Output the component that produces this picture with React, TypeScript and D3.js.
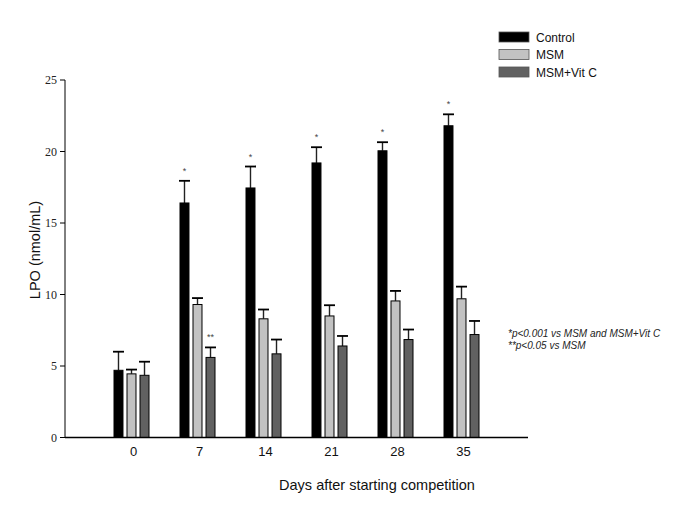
import * as d3 from "d3";

const days = ["0", "7", "14", "21", "28", "35"];
const series = ["Control", "MSM", "MSM+Vit C"];
const colors = ["#000000", "#c2c2c2", "#616161"];

const controlMean = [4.7, 16.4, 17.45, 19.2, 20.05, 21.8];
const controlErr = [1.3, 1.55, 1.5, 1.1, 0.6, 0.8];
const msmMean = [4.45, 9.3, 8.3, 8.5, 9.55, 9.7];
const msmErr = [0.3, 0.45, 0.65, 0.75, 0.7, 0.85];
const vitcMean = [4.35, 5.6, 5.85, 6.4, 6.85, 7.2];
const vitcErr = [0.95, 0.7, 1.0, 0.7, 0.7, 0.95];

const stars = [
  ["", "", ""],
  ["*", "", "**"],
  ["*", "", ""],
  ["*", "", ""],
  ["*", "", ""],
  ["*", "", ""],
];

const yTicks = [0, 5, 10, 15, 20, 25];
const notes = ["*p<0.001 vs MSM and MSM+Vit C", "**p<0.05 vs MSM"];

const sans = "'Liberation Sans', Arial, sans-serif";
const serif = "'Liberation Serif', 'Times New Roman', serif";

export default function App() {
  const width = 685;
  const height = 513;
  const axisLeft = 65;
  const axisRight = 528;

  const y = d3.scaleLinear().domain([0, 25]).range([437.5, 80]);
  const x = d3.scalePoint<string>().domain(days).range([131.5, 461.5]);
  const inner = d3
    .scaleBand<string>()
    .domain(series)
    .range([-17.5, 17.5])
    .paddingInner(0.31);

  const means = [controlMean, msmMean, vitcMean];
  const errs = [controlErr, msmErr, vitcErr];
  const bw = inner.bandwidth();

  return (
    <svg
      width={width}
      height={height}
      style={{ position: "absolute", left: 0, top: 0, background: "#fff" }}
    >
      {/* bars */}
      {days.map((d, i) => (
        <g key={d}>
          {series.map((s, j) => {
            const x0 = (x(d) as number) + (inner(s) as number);
            const cx = x0 + bw / 2;
            const top = y(means[j][i]);
            const cap = y(means[j][i] + errs[j][i]);
            return (
              <g key={s}>
                <line x1={cx} x2={cx} y1={top} y2={cap} stroke="#222" strokeWidth={1.4} />
                <line
                  x1={cx - bw / 2 - 1}
                  x2={cx + bw / 2 + 1}
                  y1={cap}
                  y2={cap}
                  stroke="#000"
                  strokeWidth={1.8}
                />
                <rect
                  x={x0}
                  y={top}
                  width={bw}
                  height={y(0) - top}
                  fill={colors[j]}
                  stroke="#000"
                  strokeWidth={1}
                />
                {stars[i][j] && (
                  <text
                    x={cx}
                    y={cap - 7}
                    textAnchor="middle"
                    fontFamily={sans}
                    fontSize={9}
                    fill="#444"
                  >
                    {stars[i][j]}
                  </text>
                )}
              </g>
            );
          })}
          <text
            x={(x(d) as number) + 2}
            y={456}
            textAnchor="middle"
            fontFamily={sans}
            fontSize={13}
            fill="#111"
          >
            {d}
          </text>
        </g>
      ))}

      {/* axes */}
      <line x1={axisLeft} x2={axisLeft} y1={y(25)} y2={y(0)} stroke="#000" strokeWidth={1} />
      <line x1={axisLeft} x2={axisRight} y1={y(0)} y2={y(0)} stroke="#000" strokeWidth={1.5} />
      {yTicks.map((t) => (
        <g key={t}>
          <line x1={axisLeft - 5} x2={axisLeft} y1={y(t)} y2={y(t)} stroke="#000" />
          <text
            x={57}
            y={y(t)}
            dy="0.35em"
            textAnchor="end"
            fontFamily={serif}
            fontSize={12}
            fill="#222"
          >
            {t}
          </text>
        </g>
      ))}

      <text
        transform={`translate(40, 250) rotate(-90)`}
        textAnchor="middle"
        fontFamily={sans}
        fontSize={14.5}
        fill="#111"
      >
        LPO (nmol/mL)
      </text>
      <text
        x={377}
        y={490}
        textAnchor="middle"
        fontFamily={sans}
        fontSize={14.5}
        fill="#111"
      >
        Days after starting competition
      </text>

      {/* legend */}
      {series.map((s, j) => (
        <g key={s} transform={`translate(499, ${32 + j * 17.5})`}>
          <rect width={30} height={10} fill={colors[j]} stroke="#555" strokeWidth={0.8} />
          <text x={37} y={9.5} fontFamily={sans} fontSize={12} fill="#111">
            {s}
          </text>
        </g>
      ))}

      {/* notes */}
      {notes.map((n, i) => (
        <text
          key={n}
          x={508}
          y={337 + i * 12}
          fontFamily={sans}
          fontSize={10}
          fontStyle="italic"
          fill="#222"
        >
          {n}
        </text>
      ))}
    </svg>
  );
}
